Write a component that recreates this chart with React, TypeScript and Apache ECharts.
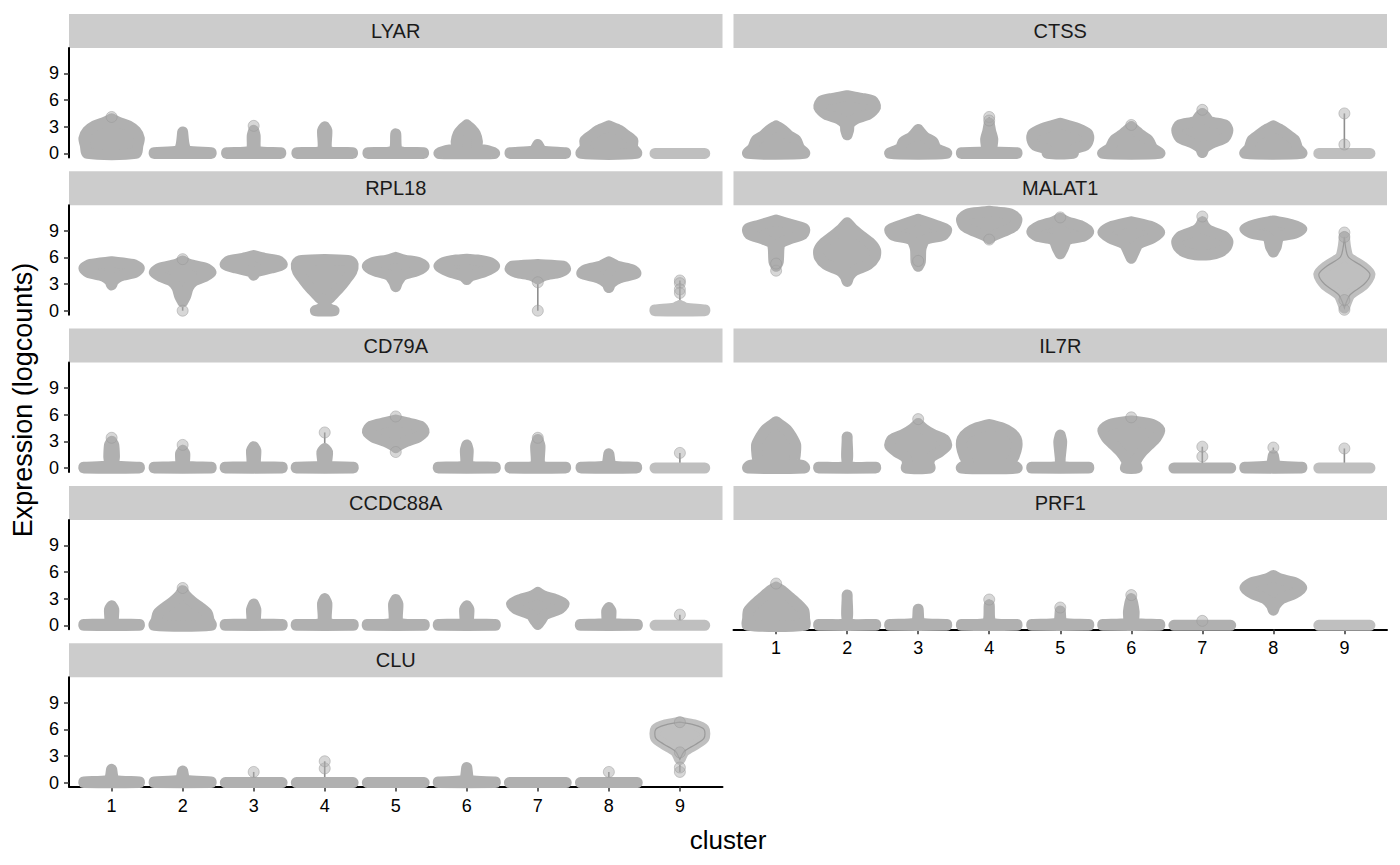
import React, { useEffect, useRef } from 'react';
import * as echarts from 'echarts';

const genes = ['LYAR', 'CTSS', 'RPL18', 'MALAT1', 'CD79A', 'IL7R', 'CCDC88A', 'PRF1', 'CLU'];
const clusters = [1, 2, 3, 4, 5, 6, 7, 8, 9];
const yTicks = [0, 3, 6, 9];
const xTitle = 'cluster';
const yTitle = 'Expression (logcounts)';

// Violin silhouettes per cluster: [expression value, half-width in cluster units]
const LYAR = [
  [[0, 0.34], [0.9, 0.37], [1.7, 0.39], [2.5, 0.34], [3.1, 0.24], [3.5, 0.1], [3.9, 0]],
  [[0, 0.4], [0.08, 0.4], [0.3, 0.06], [1.0, 0.02], [2.4, 0]],
  [[0, 0.38], [0.08, 0.38], [0.3, 0.04], [2.0, 0.02], [2.6, 0]],
  [[0, 0.39], [0.08, 0.39], [0.3, 0.04], [2.6, 0.03], [3.0, 0]],
  [[0, 0.39], [0.08, 0.39], [0.3, 0.03], [2.2, 0]],
  [[0, 0.39], [0.3, 0.3], [0.6, 0.14], [1.3, 0.15], [2.2, 0.12], [2.8, 0.06], [3.2, 0]],
  [[0, 0.39], [0.08, 0.39], [0.3, 0.06], [1.0, 0]],
  [[0, 0.39], [0.7, 0.33], [1.4, 0.34], [2.0, 0.25], [2.6, 0.15], [3.1, 0]],
  [[0, 0.35]],
];
const CTSS = [
  [[0, 0.4], [0.6, 0.33], [1.5, 0.28], [2.0, 0.18], [2.6, 0.1], [3.1, 0]],
  [[2.1, 0], [2.6, 0.02], [3.3, 0.03], [3.9, 0.12], [4.4, 0.3], [5.2, 0.4], [5.9, 0.36], [6.2, 0.2], [6.5, 0]],
  [[0, 0.4], [0.6, 0.25], [1.3, 0.21], [1.8, 0.1], [2.3, 0.04], [2.7, 0]],
  [[0, 0.39], [0.08, 0.39], [0.3, 0.05], [1.6, 0.05], [2.5, 0.02], [3.4, 0]],
  [[0, 0.18], [0.5, 0.2], [0.9, 0.35], [1.6, 0.4], [2.2, 0.39], [2.8, 0.25], [3.1, 0.12], [3.4, 0]],
  [[0, 0.4], [0.6, 0.3], [1.5, 0.24], [2.1, 0.13], [2.6, 0.06], [3.0, 0]],
  [[0.1, 0], [0.6, 0.03], [1.2, 0.15], [1.8, 0.32], [2.6, 0.36], [3.2, 0.32], [3.6, 0.1], [4.2, 0.04], [4.5, 0]],
  [[0, 0.4], [0.6, 0.34], [1.5, 0.3], [2.1, 0.2], [2.6, 0.12], [3.1, 0]],
  [[0, 0.36]],
];
const RPL18 = [
  [[2.9, 0], [3.4, 0.03], [3.9, 0.12], [4.3, 0.33], [4.8, 0.39], [5.2, 0.3], [5.5, 0]],
  [[1.0, 0], [1.6, 0.04], [2.6, 0.08], [3.3, 0.15], [3.8, 0.3], [4.3, 0.4], [4.8, 0.32], [5.2, 0.1], [5.6, 0]],
  [[4.0, 0], [4.4, 0.04], [4.8, 0.25], [5.2, 0.4], [5.6, 0.35], [5.9, 0.15], [6.2, 0]],
  [[0, 0.13], [0.3, 0.03], [0.9, 0.01], [1.5, 0.08], [2.5, 0.2], [3.5, 0.3], [4.4, 0.38], [5.2, 0.4], [5.6, 0.36], [5.75, 0]],
  [[2.7, 0], [3.3, 0.03], [4.0, 0.1], [4.5, 0.3], [5.0, 0.4], [5.4, 0.33], [5.7, 0.12], [6.0, 0]],
  [[3.5, 0], [3.9, 0.05], [4.4, 0.25], [5.0, 0.39], [5.4, 0.33], [5.7, 0.15], [5.8, 0]],
  [[3.6, 0], [4.0, 0.1], [4.3, 0.3], [4.7, 0.39], [5.0, 0.36], [5.2, 0]],
  [[2.6, 0], [3.1, 0.03], [3.7, 0.15], [4.2, 0.38], [4.6, 0.33], [5.0, 0.12], [5.5, 0]],
  [[0, 0.35], [0.08, 0.35], [0.3, 0.08], [0.6, 0]],
];
const MALAT1 = [
  [[5.0, 0], [5.5, 0.03], [7.0, 0.04], [7.6, 0.06], [8.1, 0.2], [8.6, 0.38], [9.2, 0.4], [9.6, 0.25], [10.2, 0]],
  [[3.3, 0], [3.9, 0.03], [4.5, 0.1], [5.2, 0.3], [6.0, 0.39], [6.8, 0.4], [7.6, 0.33], [8.4, 0.2], [9.2, 0.08], [9.9, 0]],
  [[5.0, 0], [5.5, 0.03], [7.0, 0.04], [8.0, 0.1], [8.5, 0.35], [9.1, 0.4], [9.6, 0.25], [10.3, 0]],
  [[8.1, 0], [8.4, 0.05], [8.9, 0.2], [9.5, 0.35], [10.3, 0.39], [10.9, 0.3], [11.1, 0.1], [11.2, 0]],
  [[6.4, 0], [7.0, 0.04], [8.0, 0.1], [8.4, 0.33], [8.9, 0.4], [9.5, 0.3], [10.0, 0.1], [10.4, 0]],
  [[5.9, 0], [6.6, 0.04], [7.5, 0.1], [8.2, 0.3], [8.8, 0.4], [9.4, 0.3], [10.0, 0]],
  [[6.3, 0.1], [6.6, 0.25], [7.2, 0.34], [7.8, 0.36], [8.4, 0.3], [9.0, 0.1], [9.5, 0.03], [10.0, 0]],
  [[6.6, 0], [7.2, 0.04], [8.3, 0.08], [8.7, 0.3], [9.2, 0.4], [9.7, 0.25], [10.1, 0]],
  [[0.3, 0], [1.0, 0.03], [1.8, 0.08], [3.0, 0.28], [4.1, 0.36], [5.0, 0.25], [6.0, 0.06], [7.0, 0.02], [8.3, 0]],
];
const CD79A = [
  [[0, 0.39], [0.08, 0.39], [0.3, 0.04], [1.3, 0.04], [2.6, 0.03], [3.0, 0]],
  [[0, 0.4], [0.08, 0.4], [0.3, 0.04], [1.6, 0.03], [2.0, 0]],
  [[0, 0.4], [0.08, 0.4], [0.3, 0.04], [2.0, 0.03], [2.4, 0]],
  [[0, 0.4], [0.08, 0.4], [0.3, 0.04], [1.8, 0.04], [2.2, 0]],
  [[2.3, 0], [2.6, 0.05], [3.0, 0.15], [3.5, 0.32], [4.1, 0.4], [4.7, 0.35], [5.1, 0.15], [5.4, 0]],
  [[0, 0.4], [0.08, 0.4], [0.3, 0.03], [2.0, 0.02], [2.6, 0]],
  [[0, 0.39], [0.08, 0.39], [0.3, 0.04], [2.5, 0.03], [3.2, 0]],
  [[0, 0.39], [0.08, 0.39], [0.3, 0.04], [1.6, 0]],
  [[0, 0.35]],
];
const IL7R = [
  [[0, 0.4], [0.25, 0.38], [0.5, 0.26], [1.5, 0.27], [2.6, 0.275], [3.5, 0.22], [4.3, 0.15], [4.8, 0.07], [5.2, 0]],
  [[0, 0.4], [0.08, 0.4], [0.3, 0.02], [3.5, 0]],
  [[0, 0.165], [0.5, 0.15], [1.2, 0.18], [1.8, 0.3], [2.5, 0.4], [3.2, 0.37], [3.8, 0.2], [4.4, 0.08], [5.0, 0]],
  [[0, 0.39], [0.6, 0.3], [1.3, 0.35], [2.4, 0.39], [3.3, 0.38], [4.0, 0.3], [4.5, 0.18], [4.9, 0]],
  [[0, 0.4], [0.08, 0.4], [0.3, 0.02], [3.0, 0.02], [3.7, 0]],
  [[0, 0.08], [0.5, 0.06], [1.0, 0.08], [1.8, 0.15], [2.6, 0.25], [3.4, 0.35], [4.3, 0.4], [4.9, 0.3], [5.3, 0]],
  [[0, 0.4]],
  [[0, 0.4], [0.08, 0.4], [0.3, 0.04], [1.4, 0]],
  [[0, 0.36]],
];
const CCDC88A = [
  [[0, 0.39], [0.08, 0.39], [0.3, 0.04], [1.8, 0.03], [2.2, 0]],
  [[0, 0.4], [0.6, 0.37], [1.3, 0.35], [2.0, 0.25], [2.7, 0.13], [3.4, 0.04], [3.9, 0]],
  [[0, 0.4], [0.08, 0.4], [0.3, 0.04], [1.8, 0.03], [2.4, 0]],
  [[0, 0.4], [0.08, 0.4], [0.3, 0.04], [2.5, 0.03], [3.0, 0]],
  [[0, 0.4], [0.08, 0.4], [0.3, 0.04], [2.4, 0.03], [2.9, 0]],
  [[0, 0.4], [0.08, 0.4], [0.3, 0.04], [1.8, 0.03], [2.2, 0]],
  [[0.1, 0], [0.5, 0.04], [1.2, 0.1], [1.8, 0.3], [2.4, 0.37], [2.9, 0.25], [3.3, 0.08], [3.7, 0]],
  [[0, 0.4], [0.08, 0.4], [0.3, 0.04], [1.6, 0.03], [2.0, 0]],
  [[0, 0.35]],
];
const PRF1 = [
  [[0, 0.4], [0.8, 0.4], [1.6, 0.39], [2.4, 0.3], [3.1, 0.2], [3.8, 0.1], [4.3, 0]],
  [[0, 0.4], [0.08, 0.4], [0.3, 0.02], [3.4, 0]],
  [[0, 0.4], [0.08, 0.4], [0.3, 0.03], [1.8, 0]],
  [[0, 0.39], [0.08, 0.39], [0.3, 0.03], [2.3, 0]],
  [[0, 0.4], [0.08, 0.4], [0.3, 0.03], [1.6, 0]],
  [[0, 0.4], [0.08, 0.4], [0.3, 0.05], [1.5, 0.04], [2.5, 0.02], [3.0, 0]],
  [[0, 0.4]],
  [[1.7, 0], [2.3, 0.03], [3.0, 0.12], [3.6, 0.3], [4.2, 0.4], [4.8, 0.3], [5.2, 0.1], [5.6, 0]],
  [[0, 0.36]],
];
const CLU = [
  [[0, 0.39], [0.08, 0.39], [0.3, 0.04], [1.5, 0]],
  [[0, 0.4], [0.08, 0.4], [0.3, 0.04], [1.3, 0]],
  [[0, 0.4]],
  [[0, 0.4]],
  [[0, 0.4]],
  [[0, 0.4], [0.08, 0.4], [0.3, 0.04], [1.7, 0]],
  [[0, 0.4]],
  [[0, 0.4]],
  [[2.6, 0], [3.5, 0.06], [4.3, 0.22], [5.0, 0.34], [6.0, 0.34], [6.5, 0.2], [6.8, 0]],
];

// Isolated cells drawn as separate points: [cluster, expression]
const LYAR_DOTS = [[1, 4.1], [3, 3.1]];
const CTSS_DOTS = [[4, 4.1], [4, 3.7], [6, 3.2], [7, 4.9], [9, 4.5], [9, 1.0]];
const RPL18_DOTS = [[2, 0], [2, 5.8], [7, 0], [7, 3.2], [9, 3.4], [9, 3.1], [9, 2.4], [9, 2.0]];
const MALAT1_DOTS = [[1, 4.5], [1, 5.3], [3, 5.6], [4, 8.0], [5, 10.5], [7, 10.6], [9, 8.8], [9, 8.3], [9, 0.1], [9, 1.2]];
const CD79A_DOTS = [[1, 3.4], [2, 2.6], [4, 4.0], [5, 5.8], [5, 1.8], [7, 3.4], [9, 1.7]];
const IL7R_DOTS = [[3, 5.5], [6, 5.7], [7, 1.3], [7, 2.4], [8, 2.3], [9, 2.2]];
const CCDC88A_DOTS = [[2, 4.2], [9, 1.2]];
const PRF1_DOTS = [[1, 4.7], [4, 2.9], [5, 2.0], [6, 3.4], [7, 0.5]];
const CLU_DOTS = [[3, 1.2], [4, 1.6], [4, 2.4], [8, 1.2], [9, 1.2], [9, 1.7], [9, 3.4], [9, 6.8]];

const profiles = [LYAR, CTSS, RPL18, MALAT1, CD79A, IL7R, CCDC88A, PRF1, CLU];
const dots = [LYAR_DOTS, CTSS_DOTS, RPL18_DOTS, MALAT1_DOTS, CD79A_DOTS, IL7R_DOTS, CCDC88A_DOTS, PRF1_DOTS, CLU_DOTS];

const FONT = "'Liberation Sans', Arial, Helvetica, sans-serif";
const COL_LEFT = [69, 733.5];
const PANEL_W = 653.5;
const STRIP_TOP0 = 14;
const ROW_STEP = 157.3;
const STRIP_H = 34;
const PANEL_H = 109.4;
const Y_MIN = -0.45;
const Y_MAX = 11.86;
const X_MIN = 0.4;
const X_MAX = 9.6;
const BODY = '#B0B0B0';
const BODY9 = '#BFBFBF';
const DOT_D = 11;

export default function App() {
  const ref = useRef<HTMLDivElement>(null);
  useEffect(() => {
    const chart = echarts.init(ref.current as HTMLDivElement, null, { renderer: 'svg' });
    const grid: any[] = [];
    const xAxis: any[] = [];
    const yAxis: any[] = [];
    const series: any[] = [];
    const graphic: any[] = [];

    genes.forEach((g, i) => {
      const col = i % 2;
      const row = Math.floor(i / 2);
      const left = COL_LEFT[col];
      const stripTop = STRIP_TOP0 + row * ROW_STEP;
      const top = stripTop + STRIP_H;
      grid.push({ left, top, width: PANEL_W, height: PANEL_H, containLabel: false });
      const isBottom = i === 7 || i === 8;
      const isLeft = col === 0;
      xAxis.push({
        type: 'value', gridIndex: i, min: X_MIN, max: X_MAX,
        axisLine: { show: isBottom, onZero: false, lineStyle: { color: '#000', width: 2 } },
        axisTick: { show: isBottom, customValues: clusters, length: 5, lineStyle: { color: '#333', width: 1.5 } },
        axisLabel: { show: isBottom, customValues: clusters, margin: 10, fontSize: 18, color: '#000', fontFamily: FONT, formatter: (v: number) => String(v) },
        splitLine: { show: false },
      });
      yAxis.push({
        type: 'value', gridIndex: i, min: Y_MIN, max: Y_MAX,
        axisLine: { show: isLeft, onZero: false, lineStyle: { color: '#000', width: 2 } },
        axisTick: { show: isLeft, customValues: yTicks, length: 5, lineStyle: { color: '#333', width: 1.5 } },
        axisLabel: { show: isLeft, customValues: yTicks, margin: 10, fontSize: 18, color: '#000', fontFamily: FONT, formatter: (v: number) => String(v) },
        splitLine: { show: false },
      });

      const prof = profiles[i];
      const dd = dots[i];
      const whiskers: number[][] = [];
      clusters.forEach((c, k) => {
        const ds = dd.filter((d) => d[0] === c).map((d) => d[1]);
        if (!ds.length) return;
        const vs = prof[k].map((p) => p[0]).concat(ds);
        whiskers.push([c, Math.min(...vs), Math.max(...vs)]);
      });
      series.push({
        type: 'custom', xAxisIndex: i, yAxisIndex: i, z: 1, silent: true,
        data: whiskers,
        renderItem: (params: any, api: any) => {
          const c = api.value(0);
          const p1 = api.coord([c, api.value(1)]);
          const p2 = api.coord([c, api.value(2)]);
          return { type: 'line', shape: { x1: p1[0], y1: p1[1], x2: p2[0], y2: p2[1] }, style: { stroke: '#8E8E8E', lineWidth: 1.6 } };
        },
      });
      series.push({
        type: 'custom', xAxisIndex: i, yAxisIndex: i, z: 2, silent: true,
        data: clusters.map((c) => [c, 0]),
        renderItem: (params: any, api: any) => {
          const c = api.value(0);
          const pr = prof[params.dataIndex];
          const leftPts = pr.map((p) => api.coord([c - p[1], p[0]]));
          const rightPts = pr.slice().reverse().map((p) => api.coord([c + p[1], p[0]]));
          const pts = leftPts.concat(rightPts);
          const fill = c === 9 ? BODY9 : BODY;
          const children: any[] = [
            {
              type: 'polygon',
              shape: { points: pts, smooth: pr.length > 2 ? 0.25 : 0 },
              style: { fill, stroke: fill, lineWidth: DOT_D, lineJoin: 'round', lineCap: 'round' },
            },
          ];
          if (c === 9 && pr.length > 4) {
            children.push({
              type: 'polygon',
              shape: { points: pts, smooth: 0.3 },
              style: { fill: 'none', stroke: '#9A9A9A', lineWidth: 1.2 },
            });
          }
          return { type: 'group', children };
        },
      });
      series.push({
        type: 'scatter', xAxisIndex: i, yAxisIndex: i, z: 3, silent: true,
        symbolSize: DOT_D,
        data: dd,
        itemStyle: { color: 'rgba(172,172,172,0.6)', borderColor: 'rgba(150,150,150,0.6)', borderWidth: 1 },
      });

      graphic.push({
        type: 'rect', silent: true,
        shape: { x: left, y: stripTop, width: PANEL_W, height: STRIP_H },
        style: { fill: '#CCCCCC' },
      });
      graphic.push({
        type: 'text', silent: true,
        x: left + PANEL_W / 2, y: stripTop + STRIP_H / 2,
        style: { text: g, fontSize: 20, fontFamily: FONT, fill: '#1A1A1A', align: 'center', verticalAlign: 'middle' },
      });
    });

    graphic.push({
      type: 'text', silent: true,
      x: 23, y: 400, rotation: Math.PI / 2,
      style: { text: yTitle, fontSize: 27, fontFamily: FONT, fill: '#000', align: 'center', verticalAlign: 'middle' },
    });
    graphic.push({
      type: 'text', silent: true,
      x: 728, y: 840,
      style: { text: xTitle, fontSize: 26, fontFamily: FONT, fill: '#000', align: 'center', verticalAlign: 'middle' },
    });

    chart.setOption({
      animation: false,
      backgroundColor: '#FFFFFF',
      grid, xAxis, yAxis, series, graphic,
    });
    return () => chart.dispose();
  }, []);
  return <div ref={ref} style={{ position: 'fixed', left: 0, top: 0, width: 1400, height: 865 }} />;
}
